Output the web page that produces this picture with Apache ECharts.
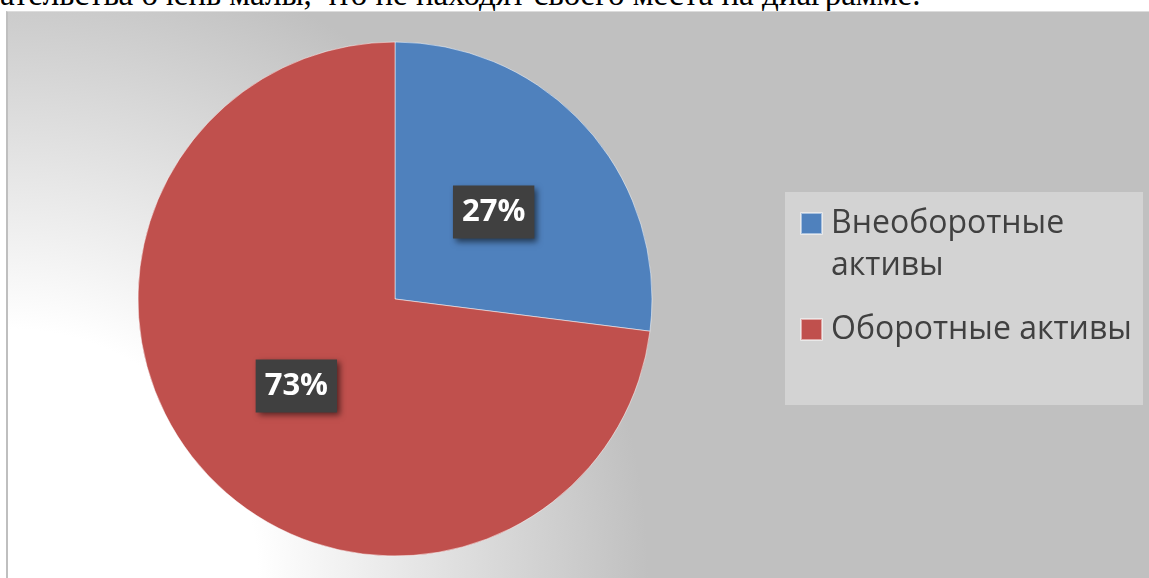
<!DOCTYPE html>
<html>
<head>
<meta charset="utf-8">
<script src="https://cdn.jsdelivr.net/npm/echarts@6/dist/echarts.min.js"></script>
<style>
  html, body { margin: 0; padding: 0; width: 1149px; height: 578px; overflow: hidden; background: #fff; }
  .caption {
    position: absolute; left: 0; top: -22px; white-space: nowrap;
    font-family: 'Liberation Serif', serif; font-size: 33px; line-height: 33px; color: #000;
  }
  #chart {
    position: absolute; left: 6px; top: 11px; width: 1141px; height: 567px;
    border-left: 2px solid #bfbfbf; border-top: 1px solid #dcdcdc;
    background: radial-gradient(circle at 0% 100%, #ffffff 250px, #c0c0c0 640px);
  }
</style>
</head>
<body>
<div class="caption">ательства очень малы, что не находят своего места на диаграмме.</div>
<div id="chart"></div>
<script>
const categories = ['Внеоборотные активы', 'Оборотные активы'];
const shares = [27, 73];
const colors = ['#4f81bd', '#c0504d'];

const chart = echarts.init(document.getElementById('chart'));

// legend text centres on the icon, so a leading blank line keeps the icon on the first line
function legendText(name) {
  return name === categories[0] ? '\n' + name.replace(' ', '\n') : name;
}

const option = {
  backgroundColor: 'transparent',
  animation: false,
  graphic: [
    { type: 'rect', left: 777, top: 180, z: -1, shape: { width: 358, height: 213 }, style: { fill: '#d3d3d3' } },
  ],
  legend: {
    orient: 'vertical',
    left: 792,
    top: 148.5,
    padding: 0,
    itemGap: 22,
    itemWidth: 21,
    itemHeight: 21,
    icon: 'rect',
    selectedMode: false,
    formatter: legendText,
    textStyle: {
      color: '#404040',
      fontFamily: 'Open Sans',
      fontSize: 32,
      lineHeight: 42,
      padding: [0, 0, 0, 4],
    },
    data: categories,
  },
  series: [
    {
      type: 'pie',
      center: [387, 287],
      radius: 257,
      startAngle: 90,
      clockwise: true,
      emphasis: { scale: false },
      itemStyle: { borderColor: 'rgba(255,255,255,0.5)', borderWidth: 1 },
      label: {
        position: 'inside',
        formatter: '{c}%',
        color: '#fff',
        fontFamily: 'Open Sans',
        fontWeight: 'bold',
        fontSize: 31,
        lineHeight: 40,
        backgroundColor: '#404040',
        padding: [7, 9, 6, 9],
        shadowColor: 'rgba(0,0,0,0.55)',
        shadowBlur: 6,
        shadowOffsetX: 3,
        shadowOffsetY: 3,
      },
      labelLine: { show: false },
      data: categories.map((name, i) => ({
        name,
        value: shares[i],
        itemStyle: { color: colors[i] },
      })),
    },
  ],
};

chart.setOption(option);
</script>
</body>
</html>
